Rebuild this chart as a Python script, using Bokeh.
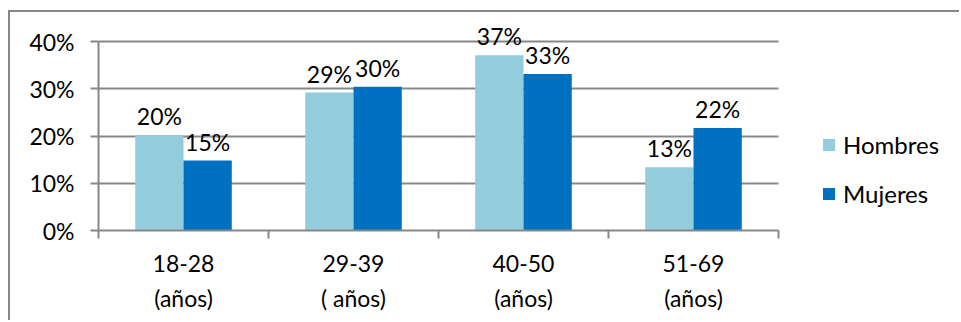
import numpy as np
from bokeh.plotting import figure
from bokeh.models import (ColumnDataSource, FixedTicker, Legend, LegendItem,
                          Range1d, NumeralTickFormatter, BoxAnnotation)
from bokeh.core.properties import value
from bokeh.embed import file_html
from bokeh.resources import INLINE

# Age groups and share of each sex per group
categories = ["18-28\n(años)", "29-39\n( años)", "40-50\n(años)", "51-69\n(años)"]
hombres = [0.202, 0.292, 0.371, 0.134]
mujeres = [0.148, 0.304, 0.331, 0.217]
y_ticks = [0.0, 0.1, 0.2, 0.3, 0.4]

FONT = "Lato"
FS = "23px"
GRAY = "#878787"
C_H = "#93CDDD"
C_M = "#0070C0"

n = len(categories)
centers = np.arange(n) + 0.5
bar_w = 0.284

src = ColumnDataSource(dict(
    xh=centers - bar_w / 2, xm=centers + bar_w / 2,
    h=hombres, m=mujeres,
    lh=[f"{round(v * 100)}%" for v in hombres],
    lm=[f"{round(v * 100)}%" for v in mujeres],
))

# plot frame runs to the right edge; the legend lives in the space right of the groups
p = figure(width=951, height=310, output_backend="svg", toolbar_location=None,
           x_range=Range1d(0, 5.0765), y_range=Range1d(0, 0.4614),
           min_border_left=88, min_border_right=0, min_border_top=0,
           min_border_bottom=92, outline_line_color=None,
           margin=(10, 0, 0, 8),
           styles={"border-top": f"2px solid {GRAY}",
                   "border-left": f"2px solid {GRAY}"})

rh = p.vbar(x="xh", top="h", width=bar_w, source=src, fill_color=C_H, line_color=None)
rm = p.vbar(x="xm", top="m", width=bar_w, source=src, fill_color=C_M, line_color=None)

for xs, ys, ls in (("xh", "h", "lh"), ("xm", "m", "lm")):
    p.text(x=xs, y=ys, text=ls, source=src, text_align="center",
           text_baseline="alphabetic", y_offset=-19,
           text_font=value(FONT), text_font_size=FS, text_color="#000000")

# y axis
yax = p.yaxis[0]
yax.ticker = FixedTicker(ticks=y_ticks)
yax.formatter = NumeralTickFormatter(format="0%")
yax.bounds = (0, 0.4)
yax.axis_line_color = GRAY
yax.axis_line_width = 2
yax.major_tick_line_color = GRAY
yax.major_tick_line_width = 2
yax.major_tick_in = 0
yax.major_tick_out = 8
yax.minor_tick_line_color = None
yax.major_label_standoff = 16
yax.major_label_text_font = FONT
yax.major_label_text_font_size = FS
yax.major_label_text_color = "#000000"

# x axis: labels at group centres, tick marks at group boundaries
xax = p.xaxis[0]
xax.ticker = FixedTicker(ticks=list(centers), minor_ticks=list(range(n + 1)))
xax.major_label_overrides = {float(c): lab for c, lab in zip(centers, categories)}
xax.bounds = (0, n)
xax.axis_line_color = GRAY
xax.axis_line_width = 2
xax.major_tick_line_color = None
xax.major_tick_in = 0
xax.major_tick_out = 0
xax.minor_tick_line_color = GRAY
xax.minor_tick_line_width = 2
xax.minor_tick_in = 0
xax.minor_tick_out = 8
xax.major_label_standoff = 10
xax.major_label_text_font = FONT
xax.major_label_text_font_size = FS
xax.major_label_text_color = "#000000"
xax.major_label_text_line_height = 1.25

p.xgrid.grid_line_color = None
p.ygrid.ticker = FixedTicker(ticks=y_ticks[1:])
p.ygrid.grid_line_color = GRAY
p.ygrid.grid_line_width = 2
p.ygrid.level = "underlay"

# blank out the grid beyond the last group, where the legend sits
p.add_layout(BoxAnnotation(left=n, fill_color="white", fill_alpha=1,
                           line_color=None, level="underlay"))

legend = Legend(items=[LegendItem(label="Hombres", renderers=[rh]),
                       LegendItem(label="Mujeres", renderers=[rm])],
                location=(723, 22), orientation="vertical",
                glyph_width=15, glyph_height=15, label_standoff=7,
                spacing=20, padding=0, margin=0,
                border_line_color=None, background_fill_alpha=0,
                label_text_font=FONT, label_text_font_size="24px",
                label_text_color="#000000")
p.add_layout(legend, "center")

open("out.html", "w").write(file_html(p, INLINE))
